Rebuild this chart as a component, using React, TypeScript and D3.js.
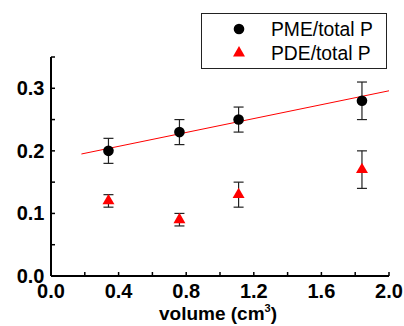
import * as d3 from 'd3';
import { useEffect, useRef } from 'react';

// volumes (cm^3) at which both ratios were measured
const volumes = [0.34, 0.76, 1.11, 1.84];

const pmeValues = [0.2, 0.23, 0.25, 0.28];
const pmeErrors = [0.02, 0.02, 0.02, 0.03];

const pdeValues = [0.12, 0.09, 0.13, 0.17];
const pdeErrors = [0.01, 0.01, 0.02, 0.03];

// linear fit through PME points, given by its two end points
const fitX = [0.18, 2.0];
const fitY = [0.195, 0.296];

const xMajorTicks = [0, 0.4, 0.8, 1.2, 1.6, 2.0];
const xMinorTicks = [0.2, 0.6, 1.0, 1.4, 1.8];
const yMajorTicks = [0, 0.1, 0.2, 0.3];
const yMinorTicks = [0.05, 0.15, 0.25, 0.35];

const seriesNames = ['PME/total P', 'PDE/total P'];

const FONT = '"Liberation Sans", Arial, Helvetica, sans-serif';

export default function App() {
  const ref = useRef<SVGSVGElement | null>(null);

  useEffect(() => {
    const svg = d3.select(ref.current);
    svg.selectAll('*').remove();

    const x = d3.scaleLinear().domain([0, 2.0]).range([51, 389]);
    const y = d3.scaleLinear().domain([0, 0.35]).range([276, 57]);
    const fmt = d3.format('.1f');

    // fit line
    const line = d3
      .line<number>()
      .x((d) => x(d))
      .y((_, i) => y(fitY[i]));
    svg
      .append('path')
      .attr('d', line(fitX))
      .attr('fill', 'none')
      .attr('stroke', '#ff0000')
      .attr('stroke-width', 1);

    // error bars
    const errs = [
      ...volumes.map((v, i) => ({ v, val: pmeValues[i], e: pmeErrors[i] })),
      ...volumes.map((v, i) => ({ v, val: pdeValues[i], e: pdeErrors[i] })),
    ];
    const eg = svg.append('g').attr('stroke', '#222').attr('stroke-width', 1.2);
    errs.forEach((d) => {
      const cx = x(d.v);
      const top = y(d.val + d.e);
      const bot = y(d.val - d.e);
      eg.append('line').attr('x1', cx).attr('x2', cx).attr('y1', top).attr('y2', bot);
      eg.append('line').attr('x1', cx - 5).attr('x2', cx + 5).attr('y1', top).attr('y2', top);
      eg.append('line').attr('x1', cx - 5).attr('x2', cx + 5).attr('y1', bot).attr('y2', bot);
    });

    const tri = d3.symbol().type(d3.symbolTriangle).size(62);

    svg
      .append('g')
      .selectAll('circle')
      .data(volumes)
      .enter()
      .append('circle')
      .attr('cx', (d) => x(d))
      .attr('cy', (_, i) => y(pmeValues[i]))
      .attr('r', 5.3)
      .attr('fill', '#000');

    svg
      .append('g')
      .selectAll('path')
      .data(volumes)
      .enter()
      .append('path')
      .attr('d', tri()!)
      .attr('transform', (d, i) => `translate(${x(d)},${y(pdeValues[i])})`)
      .attr('fill', '#ff0000');

    // axes
    const ax = svg.append('g').attr('stroke', '#000');
    ax.append('line')
      .attr('x1', x(0)).attr('x2', x(2.0))
      .attr('y1', y(0)).attr('y2', y(0))
      .attr('stroke-width', 2);
    ax.append('line')
      .attr('x1', x(0)).attr('x2', x(0))
      .attr('y1', y(0)).attr('y2', y(0.35))
      .attr('stroke-width', 2);

    xMajorTicks.concat(xMinorTicks).forEach((t) => {
      ax.append('line')
        .attr('x1', x(t)).attr('x2', x(t))
        .attr('y1', y(0)).attr('y2', y(0) - 4)
        .attr('stroke-width', 1.5);
    });
    yMajorTicks.concat(yMinorTicks).forEach((t) => {
      ax.append('line')
        .attr('x1', x(0)).attr('x2', x(0) + 4)
        .attr('y1', y(t)).attr('y2', y(t))
        .attr('stroke-width', 1.5);
    });

    svg
      .append('g')
      .selectAll('text')
      .data(xMajorTicks)
      .enter()
      .append('text')
      .attr('x', (d) => x(d))
      .attr('y', 297.5)
      .attr('text-anchor', 'middle')
      .attr('font-family', FONT)
      .attr('font-weight', 'bold')
      .attr('font-size', 20)
      .text((d) => fmt(d));

    svg
      .append('g')
      .selectAll('text')
      .data(yMajorTicks)
      .enter()
      .append('text')
      .attr('x', 44.5)
      .attr('y', (d) => y(d) + 7)
      .attr('text-anchor', 'end')
      .attr('font-family', FONT)
      .attr('font-weight', 'bold')
      .attr('font-size', 20)
      .text((d) => fmt(d));

    const xl = svg
      .append('text')
      .attr('x', 218)
      .attr('y', 320)
      .attr('text-anchor', 'middle')
      .attr('font-family', FONT)
      .attr('font-weight', 'bold')
      .attr('font-size', 19);
    xl.append('tspan').text('volume (cm');
    xl.append('tspan').attr('dy', -8).attr('font-size', 11).text('3');
    xl.append('tspan').attr('dy', 8).text(')');

    // legend
    const lg = svg.append('g');
    lg.append('rect')
      .attr('x', 201.5).attr('y', 13.5)
      .attr('width', 185).attr('height', 55)
      .attr('fill', '#fff')
      .attr('stroke', '#222')
      .attr('stroke-width', 1);
    lg.append('circle').attr('cx', 239).attr('cy', 29).attr('r', 5.3).attr('fill', '#000');
    lg.append('path').attr('d', tri()!).attr('transform', 'translate(239,53)').attr('fill', '#ff0000');
    seriesNames.forEach((name, i) => {
      lg.append('text')
        .attr('x', 271)
        .attr('y', 36 + i * 24)
        .attr('font-family', FONT)
        .attr('font-size', 19.3)
        .attr('fill', '#000')
        .text(name);
    });
  }, []);

  return (
    <svg
      ref={ref}
      width={404}
      height={326}
      style={{ position: 'absolute', left: 0, top: 0, background: '#fff' }}
    />
  );
}
